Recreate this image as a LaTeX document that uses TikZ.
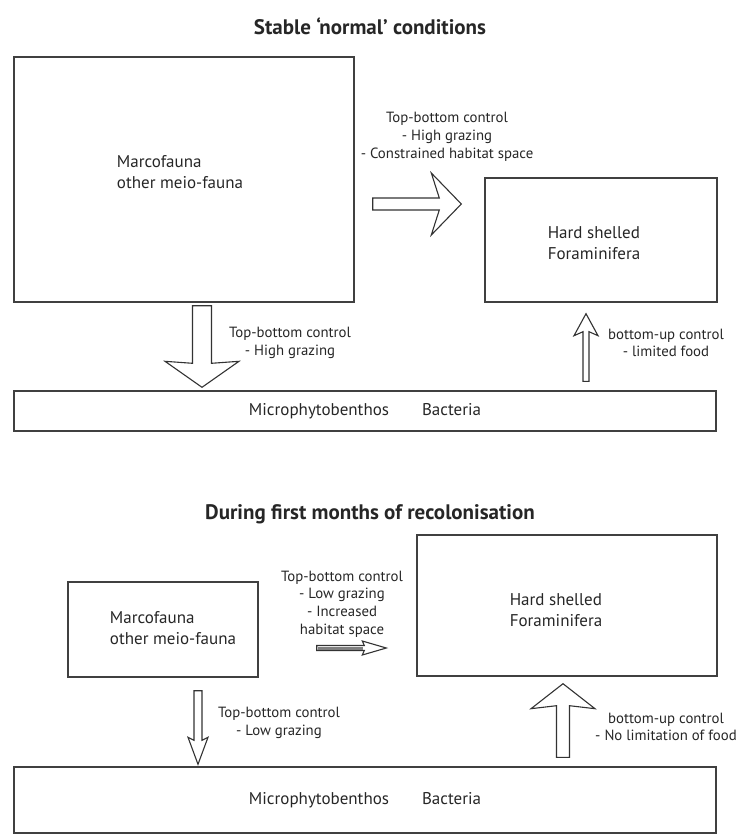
\documentclass[tikz,border=0pt]{standalone}
\usepackage{fontspec}
\setmainfont{PT Sans}
\usetikzlibrary{calc,positioning}

\begin{document}
\begin{tikzpicture}
[x=1pt,y=-1pt,
font=\fontsize{14.8}{17.8}\selectfont,
every node/.style={text=black!85},
box/.style={rectangle,draw=black!75,line width=1.4pt,inner sep=0pt},
txt/.style={align=left,inner sep=0pt,font=\fontsize{17}{21}\selectfont},
title/.style={font=\fontsize{21}{26}\selectfont\bfseries,inner sep=0pt},
note/.style={align=center,inner sep=0pt},
fat/.style n args={4}{fill=white,draw=black!80,line width=1.1pt,line join=miter,
to path={coordinate (fs) (\tikztotarget) coordinate (ft)
($(fs)!#1!90:(ft)$) -- ($(ft)!#4!(fs)!#1!-90:(fs)$)
-- ($(ft)!#3!(fs)!#2!-90:(fs)$) -- (ft)
-- ($(ft)!#3!(fs)!#2!90:(fs)$) -- ($(ft)!#4!(fs)!#1!90:(fs)$)
-- ($(fs)!#1!-90:(ft)$) -- cycle}},
shaft/.style={line width=3pt,black!50,shorten >=23pt,shorten <=1pt}]

\useasboundingbox (0,0) rectangle (739,840);

% stable conditions
\node [title] (head1) at (370,26) {Stable ‘normal’ conditions};
\node [box,minimum width=340pt,minimum height=245pt] (fauna1) at (184,179.5) {};
\node [box,minimum width=232pt,minimum height=124pt] (foram1) at (601,240) {};
\node [box,minimum width=702pt,minimum height=40pt] (micro1) at (365,411)
{\fontsize{17}{21}\selectfont Microphytobenthos\hspace{33pt}Bacteria};
\node [txt] (fauna1txt) at (180,172) {Marcofauna\\other meio-fauna};
\node [txt] (foram1txt) at (594,243) {Hard shelled\\Foraminifera};

\draw [fat={6pt}{31pt}{30pt}{22pt}] ($(fauna1.east)+(18,24.5)$) to ($(foram1.west)+(-23,-36)$);
\draw [fat={9.5pt}{37pt}{26pt}{24pt}] ($(fauna1.south)+(18,3)$) to ($(micro1.north)+(-163,-3)$);
\draw [fat={3pt}{12pt}{22pt}{18pt}] ($(micro1.north)+(221,-9)$) to ($(foram1.south)+(-15,11)$);

\node [note] (ctl1) at (447,137) {Top-bottom control\\- High grazing\\- Constrained habitat space};
\node [note] (ctl2) at (290,343) {Top-bottom control\\- High grazing};
\node [note] (ctl3) at (666,343) {bottom-up control\\- limited food};

% recolonisation
\node [title] (head2) at (370,514) {During first months of recolonisation};
\node [box,minimum width=190pt,minimum height=95pt] (fauna2) at (163,629.5) {};
\node [box,minimum width=300pt,minimum height=141pt] (foram2) at (567,605.5) {};
\node [box,minimum width=702pt,minimum height=66pt] (micro2) at (365,800)
{\fontsize{17}{21}\selectfont Microphytobenthos\hspace{33pt}Bacteria};
\node [txt] (fauna2txt) at (173,628) {Marcofauna\\other meio-fauna};
\node [txt] (foram2txt) at (556,610) {Hard shelled\\Foraminifera};

\draw [fat={2.5pt}{7pt}{24pt}{22pt}] ($(fauna2.east)+(58,18.5)$) to ($(foram2.west)+(-30,42.5)$);
\draw [shaft] ($(fauna2.east)+(58,18.5)$) -- ($(foram2.west)+(-30,42.5)$);
\draw [fat={4pt}{10pt}{27pt}{24pt}] ($(fauna2.south)+(35,13)$) to ($(micro2.north)+(-167,-2)$);
\draw [fat={6.5pt}{32pt}{25pt}{22pt}] ($(micro2.north)+(198,-9)$) to ($(foram2.south)+(-4,7)$);

\node [note] (ctl4) at (342,604) {Top-bottom control\\- Low grazing\\- Increased\\habitat space};
\node [note] (ctl5) at (279,723) {Top-bottom control\\- Low grazing};
\node [note] (ctl6) at (666,727) {bottom-up control\\- No limitation of food};
\end{tikzpicture}
\end{document}
